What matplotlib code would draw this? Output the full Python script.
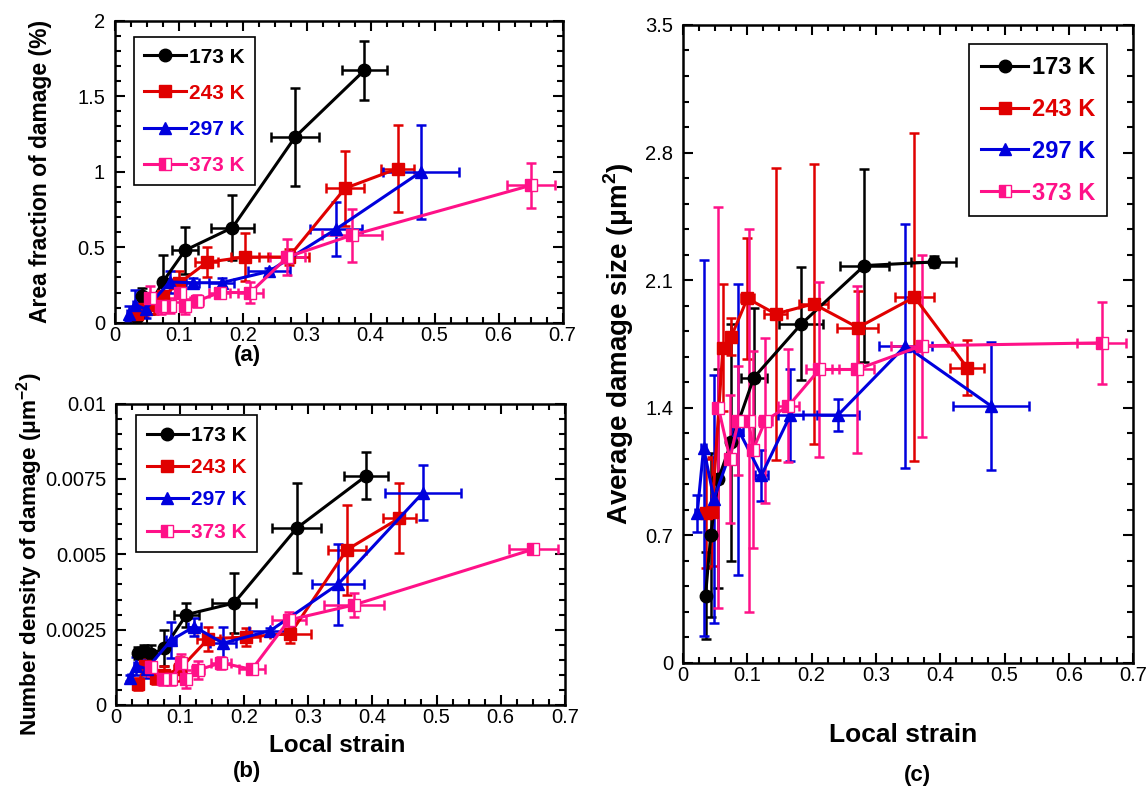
import numpy as np
import matplotlib
matplotlib.use("Agg")
import matplotlib.pyplot as plt
from matplotlib.lines import Line2D
from matplotlib.ticker import MultipleLocator, FormatStrFormatter

plt.rcParams['font.family'] = ['Liberation Sans', 'DejaVu Sans']
plt.rcParams['mathtext.fontset'] = 'custom'
plt.rcParams['mathtext.bf'] = 'Liberation Sans:bold'
plt.rcParams['mathtext.rm'] = 'Liberation Sans'

# ---- data: local strain (x) and x error per temperature ----
x173 = [0.035, 0.043, 0.055, 0.075, 0.11, 0.184, 0.282, 0.39]
xe173 = [0.004, 0.004, 0.005, 0.005, 0.02, 0.034, 0.038, 0.035]
x243 = [0.035, 0.045, 0.062, 0.075, 0.1, 0.144, 0.203, 0.272, 0.36, 0.442]
xe243 = [0.004, 0.004, 0.005, 0.006, 0.01, 0.018, 0.022, 0.032, 0.03, 0.026]
x297 = [0.022, 0.032, 0.048, 0.086, 0.122, 0.167, 0.241, 0.346, 0.479]
xe297 = [0.003, 0.004, 0.005, 0.008, 0.01, 0.02, 0.033, 0.041, 0.059]
x373 = [0.055, 0.073, 0.086, 0.102, 0.109, 0.128, 0.164, 0.212, 0.27, 0.371, 0.651]
xe373 = [0.005, 0.005, 0.005, 0.006, 0.006, 0.01, 0.016, 0.02, 0.027, 0.047, 0.038]

# (a) area fraction of damage (%)
a173 = [0.04, 0.18, 0.12, 0.27, 0.48, 0.63, 1.23, 1.67]
ae173 = [0.05, 0.05, 0.06, 0.18, 0.155, 0.215, 0.325, 0.195]
a243 = [0.06, 0.09, 0.12, 0.175, 0.26, 0.40, 0.435, 0.435, 0.89, 1.02]
ae243 = [0.04, 0.05, 0.06, 0.07, 0.08, 0.1, 0.16, 0.05, 0.25, 0.29]
a297 = [0.06, 0.12, 0.09, 0.27, 0.265, 0.265, 0.34, 0.62, 1.0]
ae297 = [0.05, 0.1, 0.06, 0.07, 0.03, 0.03, 0.02, 0.18, 0.31]
a373 = [0.165, 0.11, 0.114, 0.2, 0.11, 0.143, 0.2, 0.2, 0.435, 0.58, 0.91]
ae373 = [0.08, 0.05, 0.05, 0.06, 0.05, 0.04, 0.03, 0.07, 0.12, 0.175, 0.15]

# (b) number density of damage (um^-2)
b173 = [0.00172, 0.0018, 0.00168, 0.00188, 0.003, 0.00338, 0.00587, 0.0076]
be173 = [0.0002, 0.0002, 0.0003, 0.0006, 0.0004, 0.001, 0.0015, 0.00078]
b243 = [0.0007, 0.0013, 0.0009, 0.001, 0.0012, 0.0022, 0.00225, 0.00237, 0.00515, 0.0062]
be243 = [0.0002, 0.0003, 0.0002, 0.0003, 0.0004, 0.0004, 0.0003, 0.0003, 0.0015, 0.00116]
b297 = [0.0009, 0.0013, 0.0012, 0.00215, 0.0026, 0.00205, 0.00247, 0.004, 0.00705]
be297 = [0.0001, 0.0003, 0.0003, 0.0006, 0.0003, 0.00055, 0.0001, 0.00135, 0.0009]
b373 = [0.00127, 0.00085, 0.00085, 0.0014, 0.00085, 0.00116, 0.0014, 0.00118, 0.00282, 0.00332, 0.00517]
be373 = [0.0003, 0.0002, 0.0002, 0.0003, 0.0003, 0.0003, 0.0002, 0.0001, 0.00025, 0.0004, 0.0001]

# (c) average damage size (um^2)
c173 = [0.37, 0.70, 1.01, 1.21, 1.565, 1.86, 2.18, 2.20]
ce173 = [0.24, 0.45, 0.6, 0.65, 0.38, 0.31, 0.53, 0.03]
c243 = [0.82, 0.83, 1.73, 1.79, 2.0, 1.915, 1.97, 1.84, 2.007, 1.62]
ce243 = [0.3, 0.3, 0.35, 0.1, 0.33, 0.8, 0.77, 0.2, 0.9, 0.15]
c297 = [0.82, 1.18, 0.9, 1.28, 1.03, 1.36, 1.36, 1.74, 1.41]
ce297 = [0.1, 1.03, 0.68, 0.8, 0.14, 0.25, 0.09, 0.67, 0.35]
c373 = [1.40, 1.12, 1.33, 1.33, 1.17, 1.33, 1.41, 1.61, 1.61, 1.74, 1.756]
ce373 = [1.1, 0.35, 0.3, 1.05, 0.54, 0.45, 0.31, 0.48, 0.46, 0.5, 0.225]

labels = ["173 K", "243 K", "297 K", "373 K"]
colors = ["#000000", "#e00000", "#0000dd", "#ff1188"]
markers = ["o", "s", "^", "s"]

fig = plt.figure(figsize=(11.48, 7.93), dpi=100)
ax_a = fig.add_axes([0.100, 0.593, 0.390, 0.381])
ax_b = fig.add_axes([0.101, 0.111, 0.391, 0.380])
ax_c = fig.add_axes([0.595, 0.164, 0.392, 0.8045])


def marker_kw(i):
    kw = dict(color=colors[i], marker=markers[i], markersize=9 if i != 2 else 8,
              lw=2.2, markeredgecolor=colors[i])
    if i == 3:
        kw.update(fillstyle="left", markerfacecoloralt="white")
    return kw


def draw(ax, xs, ys, yerrs, xerrs):
    for i in range(4):
        ax.errorbar(xs[i], ys[i], yerr=yerrs[i], xerr=xerrs[i],
                    elinewidth=1.8, capsize=3.5, capthick=1.8, **marker_kw(i))


def style(ax, ymax, ymaj, ymin):
    ax.set_xlim(0, 0.7)
    ax.set_ylim(0, ymax)
    ax.xaxis.set_major_locator(MultipleLocator(0.1))
    ax.xaxis.set_minor_locator(MultipleLocator(0.025))
    ax.yaxis.set_major_locator(MultipleLocator(ymaj))
    ax.yaxis.set_minor_locator(MultipleLocator(ymin))
    ax.xaxis.set_major_formatter(FormatStrFormatter("%g"))
    ax.yaxis.set_major_formatter(FormatStrFormatter("%g"))
    ax.tick_params(which="both", direction="in", top=True, right=True, width=1.5,
                   labelsize=14.5)
    ax.tick_params(axis="x", pad=2)
    ax.tick_params(axis="y", pad=7)
    ax.tick_params(which="major", length=7)
    ax.tick_params(which="minor", length=4)
    for s in ax.spines.values():
        s.set_linewidth(1.8)


def legend(ax, loc, anchor, fs, spacing):
    handles = [Line2D([], [], **marker_kw(i)) for i in range(4)]
    leg = ax.legend(handles, labels, loc=loc, bbox_to_anchor=anchor, fancybox=False,
                    edgecolor="black", framealpha=1, borderaxespad=0,
                    handlelength=2.0, handletextpad=0.15, labelspacing=spacing,
                    borderpad=0.5, prop=dict(weight="bold", size=fs))
    leg.get_frame().set_linewidth(1.2)
    for t, c in zip(leg.get_texts(), colors):
        t.set_color(c)


xs = [x173, x243, x297, x373]
xes = [xe173, xe243, xe297, xe373]

draw(ax_a, xs, [a173, a243, a297, a373], [ae173, ae243, ae297, ae373], xes)
style(ax_a, 2, 0.5, 0.1)
legend(ax_a, "upper left", (0.042, 0.945), 15, 0.82)
ax_a.set_ylabel("Area fraction of damage (%)", fontsize=16.5, fontweight="bold")
ax_a.yaxis.set_label_coords(-0.141, 0.5)

draw(ax_b, xs, [b173, b243, b297, b373], [be173, be243, be297, be373], xes)
style(ax_b, 0.01, 0.0025, 0.0005)
legend(ax_b, "upper left", (0.045, 0.961), 15, 0.64)
ax_b.set_ylabel("Number density of damage ($\\mathbf{\\mu}$m$^{\\mathbf{-2}}$)",
                fontsize=16.2, fontweight="bold")
ax_b.yaxis.set_label_coords(-0.157, 0.5)
ax_b.set_xlabel("Local strain", fontsize=17.5, fontweight="bold")
ax_b.xaxis.set_label_coords(0.493, -0.096)

draw(ax_c, xs, [c173, c243, c297, c373], [ce173, ce243, ce297, ce373], xes)
style(ax_c, 3.5, 0.7, 0.14)
legend(ax_c, "upper right", (0.942, 0.970), 17, 0.8)
ax_c.set_ylabel("Average damage size ($\\mathbf{\\mu}$m$^{\\mathbf{2}}$)",
                fontsize=20, fontweight="bold")
ax_c.yaxis.set_label_coords(-0.104, 0.5)
ax_c.set_xlabel("Local strain", fontsize=19, fontweight="bold")
ax_c.xaxis.set_label_coords(0.49, -0.094)

fig.text(247 / 1148, 1 - 355 / 793, "(a)", fontsize=16, fontweight="bold", ha="center", va="center")
fig.text(247 / 1148, 1 - 771 / 793, "(b)", fontsize=16, fontweight="bold", ha="center", va="center")
fig.text(917 / 1148, 1 - 775 / 793, "(c)", fontsize=16, fontweight="bold", ha="center", va="center")

fig.savefig("out.png", dpi=100)
